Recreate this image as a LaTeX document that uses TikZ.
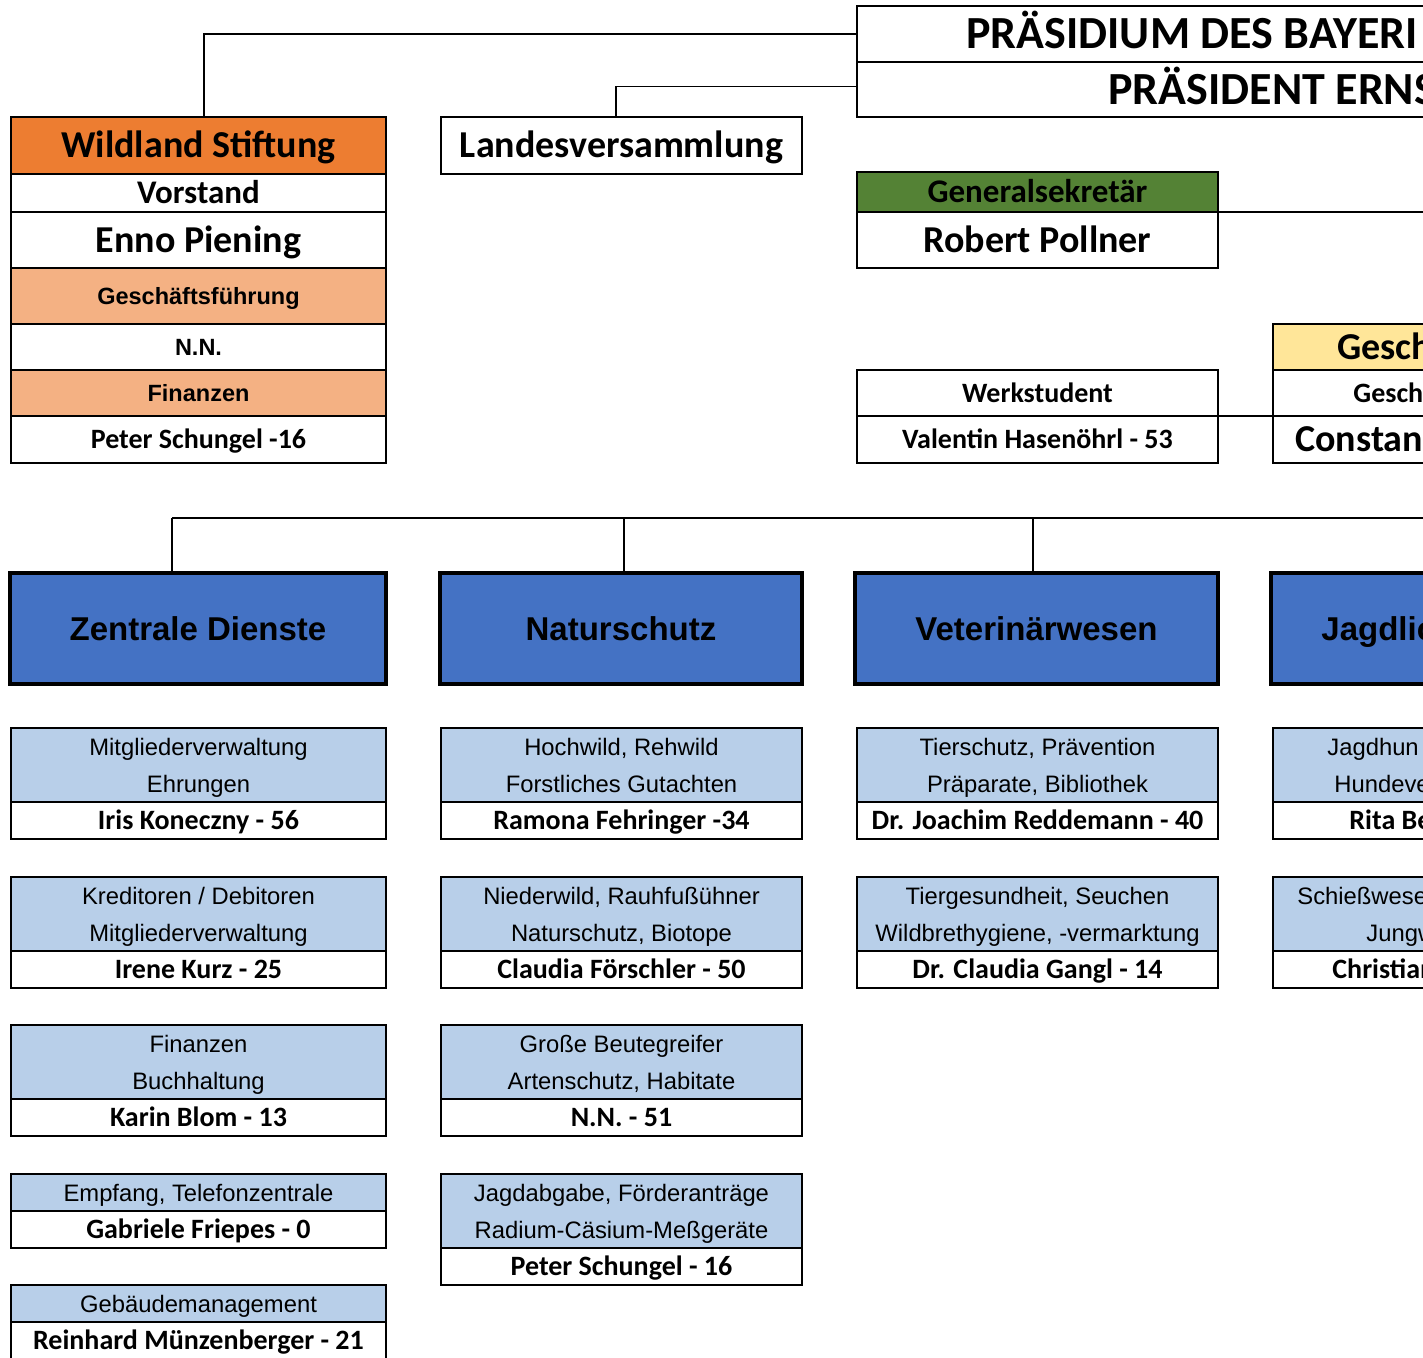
\documentclass[tikz,border=0pt]{standalone}
\usepackage{fontspec}
\setmainfont{Carlito}
\newfontfamily\calf{Carlito}
\newfontfamily\arf{Liberation Sans}
\definecolor{orgH}{HTML}{ED7D31}
\definecolor{orgL}{HTML}{F4B183}
\definecolor{grn}{HTML}{548235}
\definecolor{yel}{HTML}{FFE699}
\definecolor{deptc}{HTML}{4472C4}
\definecolor{lblue}{HTML}{B8CFE9}
\newcommand{\mkcell}[7]{%
  \node[cellbase,minimum width={((#4)-(#2))*0.5pt},minimum height={((#5)-(#3))*0.5pt},#6] (#1) at ({((#2)+(#4))/2},{((#3)+(#5))/2}) {#7};}
\newcommand{\subtwo}[7]{%
  \mkcell{#1a}{#2}{#4}{#3}{#4+74}{fill=lblue}{}%
  \node[ftop] (#1l1) at ({((#2)+(#3))/2},{#4+19}) {#5};%
  \node[ftop] (#1l2) at ({((#2)+(#3))/2},{#4+56}) {#6};%
  \mkcell{#1b}{#2}{#4+74}{#3}{#4+111}{fname}{#7}}
\newcommand{\subone}[6]{%
  \mkcell{#1a}{#2}{#4}{#3}{#4+37}{fill=lblue}{}%
  \node[ftop] (#1l1) at ({((#2)+(#3))/2},{#4+18.5}) {#5};%
  \mkcell{#1b}{#2}{#4+37}{#3}{#4+74}{fname}{#6}}
\begin{document}
\begin{tikzpicture}[x=0.5pt,y=-0.5pt,
  cellbase/.style={draw=black,line width=1.1pt,inner sep=0pt,outer sep=0pt,fill=white,align=center},
  fhuge/.style={font=\calf\bfseries\fontsize{23pt}{26pt}\selectfont,text height=14.8pt,text depth=0pt,inner sep=0pt},
  fbig/.style={font=\calf\bfseries\fontsize{19pt}{22pt}\selectfont,text height=12.2pt,text depth=0pt,inner sep=0pt},
  fmed/.style={font=\calf\bfseries\fontsize{16.5pt}{19pt}\selectfont,text height=10.6pt,text depth=0pt,inner sep=0pt},
  fname/.style={font=\calf\bfseries\fontsize{14pt}{16pt}\selectfont,text height=9pt,text depth=0pt,inner sep=0pt},
  farb/.style={font=\arf\bfseries\fontsize{11.75pt}{14pt}\selectfont,text height=8.4pt,text depth=0pt,inner sep=0pt},
  fdept/.style={font=\arf\bfseries\fontsize{16.5pt}{19pt}\selectfont,text height=11.8pt,text depth=0pt,inner sep=0pt},
  ftop/.style={font=\arf\fontsize{11.9pt}{14pt}\selectfont,text height=8.5pt,text depth=0pt,inner sep=0pt},
  deptbox/.style={fill=deptc,line width=2pt,fdept},
  conn/.style={draw=black,line width=0.9pt}]
\useasboundingbox (0,0) rectangle (1423,1357);
\clip (0,0) rectangle (1423,1357);
\fill[white] (0,0) rectangle (1423,1357);

% Praesidium
\mkcell{pr1}{857}{6}{1650}{62}{}{}
\mkcell{pr2}{857}{62}{1650}{117}{}{}
\node[fhuge,anchor=west] (prt1) at (966,34) {PRÄSIDIUM DES BAYERI};
\node[fhuge,anchor=west] (prt2) at (1108,89.5) {PRÄSIDENT ERNS};

% Wildland Stiftung
\mkcell{w1}{11}{117}{386}{174}{fill=orgH,fbig}{Wildland Stiftung}
\mkcell{w2}{11}{174}{386}{212}{fmed}{Vorstand}
\mkcell{w3}{11}{212}{386}{268}{fbig}{Enno Piening}
\mkcell{w4}{11}{268}{386}{324}{fill=orgL,farb}{Geschäftsführung}
\mkcell{w5}{11}{324}{386}{370}{farb}{N.N.}
\mkcell{w6}{11}{370}{386}{416}{fill=orgL,farb}{Finanzen}
\mkcell{w7}{11}{416}{386}{463}{fname}{Peter Schungel -16}

% Landesversammlung
\mkcell{lv}{441}{117}{802}{174}{fbig}{Landesversammlung}

% Generalsekretaer
\mkcell{g1}{857}{172}{1218}{212}{fill=grn,fmed}{Generalsekretär}
\mkcell{g2}{857}{212}{1218}{268}{fbig}{Robert Pollner}

% Geschaeftsfuehrung (right, cut)
\mkcell{ge1}{1273}{324}{1650}{370}{fill=yel}{}
\mkcell{ge2}{1273}{370}{1650}{416}{}{}
\mkcell{ge3}{1273}{416}{1650}{463}{}{}
\node[fbig,anchor=west] (get1) at (1337,347) {Gesch};
\node[fname,anchor=west] (get2) at (1353,393) {Gesch};
\node[fbig,anchor=west] (get3) at (1295,439.5) {Constan};

% Werkstudent
\mkcell{ws1}{857}{370}{1218}{416}{fname}{Werkstudent}
\mkcell{ws2}{857}{416}{1218}{463}{fname}{Valentin Hasenöhrl - 53}

% Departments
\mkcell{zd}{10}{573}{386}{684}{deptbox}{Zentrale Dienste}
\mkcell{nat}{440}{573}{802}{684}{deptbox}{Naturschutz}
\mkcell{vet}{855}{573}{1218}{684}{deptbox}{Veterinärwesen}
\mkcell{jag}{1271}{573}{1650}{684}{deptbox}{}
\node[fdept,anchor=west] (jagt) at (1321,628.5) {Jagdlic};

% Column 1
\subtwo{ca}{11}{386}{728}{Mitgliederverwaltung}{Ehrungen}{Iris Koneczny - 56}
\subtwo{cb}{11}{386}{877}{Kreditoren / Debitoren}{Mitgliederverwaltung}{Irene Kurz - 25}
\subtwo{cc}{11}{386}{1025}{Finanzen}{Buchhaltung}{Karin Blom - 13}
\subone{cd}{11}{386}{1174}{Empfang, Telefonzentrale}{Gabriele Friepes - 0}
\subone{ce}{11}{386}{1285}{Gebäudemanagement}{Reinhard Münzenberger - 21}

% Column 2
\subtwo{na}{441}{802}{728}{Hochwild, Rehwild}{Forstliches Gutachten}{Ramona Fehringer -34}
\subtwo{nb}{441}{802}{877}{Niederwild, Rauhfußühner}{Naturschutz, Biotope}{Claudia Förschler - 50}
\subtwo{nc}{441}{802}{1025}{Große Beutegreifer}{Artenschutz, Habitate}{N.N. - 51}
\subtwo{nd}{441}{802}{1174}{Jagdabgabe, Förderanträge}{Radium-Cäsium-Meßgeräte}{Peter Schungel - 16}

% Column 3
\subtwo{va}{857}{1218}{728}{Tierschutz, Prävention}{Präparate, Bibliothek}{Dr. Joachim Reddemann - 40}
\subtwo{vb}{857}{1218}{877}{Tiergesundheit, Seuchen}{Wildbrethygiene, -vermarktung}{Dr. Claudia Gangl - 14}

% Column 4 (cut)
\subtwo{ja}{1273}{1650}{728}{}{}{}
\subtwo{jb}{1273}{1650}{877}{}{}{}
\node[ftop,anchor=west] (jat1) at (1327,747) {Jagdhun};
\node[ftop,anchor=west] (jat2) at (1334,784) {Hundeve};
\node[fname,anchor=west] (jat3) at (1349,820.5) {Rita Be};
\node[ftop,anchor=west] (jbt1) at (1297,896) {Schießwese};
\node[ftop,anchor=west] (jbt2) at (1366,933) {Jungw};
\node[fname,anchor=west] (jbt3) at (1332,969.5) {Christian};

% Connectors
\draw[conn] ([xshift=2.75pt]w1.north) |- (pr1.west);
\draw[conn] ([xshift=-2.75pt]lv.north) |- ([yshift=1.5pt]pr2.west);
\coordinate (gsR) at (1440,212);
\draw[conn] (g1.south east) -- (gsR);
\draw[conn] (ws1.south east) -- (ge2.south west);
\coordinate (b1) at (172,518);
\coordinate (b2) at (624,518);
\coordinate (b3) at (1033,518);
\coordinate (bR) at (1440,518);
\draw[conn] (b1) -- (bR);
\draw[conn] (b1) -- (b1 |- zd.north);
\draw[conn] (b2) -- (b2 |- nat.north);
\draw[conn] (b3) -- (b3 |- vet.north);
\end{tikzpicture}
\end{document}
